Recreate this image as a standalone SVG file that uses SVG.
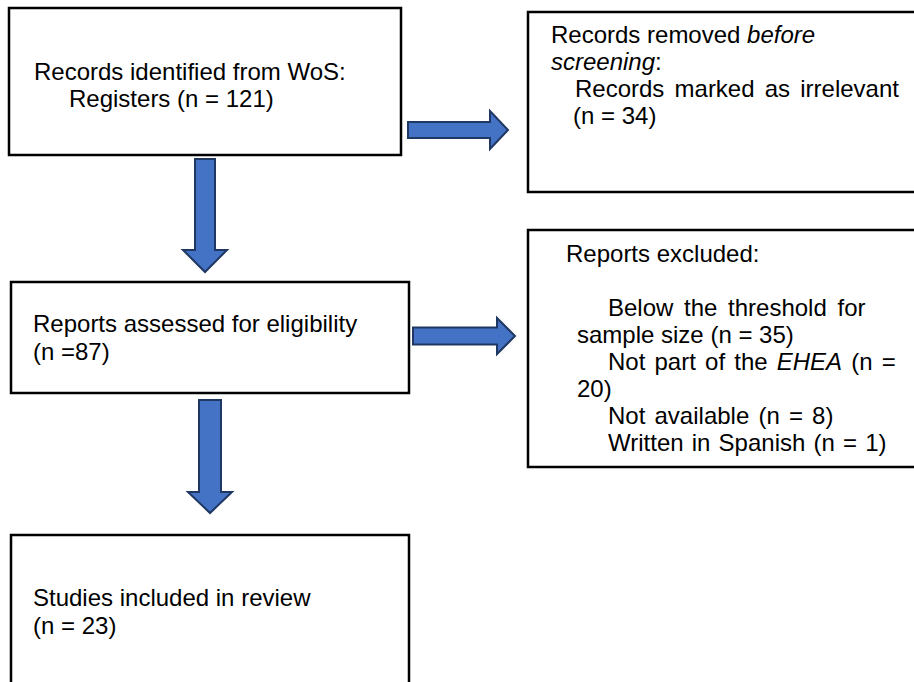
<svg xmlns="http://www.w3.org/2000/svg" width="914" height="682" viewBox="0 0 914 682">
<style>
.box{fill:#fff;stroke:#000;stroke-width:2.5}
.t{font-family:"Liberation Sans",Arial,sans-serif;font-size:24px;fill:#000}
.i{font-style:italic}
.arr{fill:#4472C4;stroke:#1F3763;stroke-width:2;stroke-linejoin:miter}
</style>
<defs>
<clipPath id="clip5"><rect x="528" y="230" width="400" height="226"/></clipPath>
</defs>
<rect width="914" height="682" fill="#fff"/>
<g id="connectors">
<path class="arr" d="M408,122 H490 V111 L508,130 L490,149 V138 H408 Z"/>
<path class="arr" d="M195,159 H215 V250 H227 L205,272 L183,250 H195 Z"/>
<path class="arr" d="M413,327.5 H497 V318 L515,336 L497,354 V344.5 H413 Z"/>
<path class="arr" d="M199,400 H221 V492 H232 L210,513 L188,492 H199 Z"/>
</g>
<g id="identified">
<rect class="box" x="9" y="8" width="392" height="147"/>
<text class="t" x="34" y="80">Records identified from WoS:</text>
<text class="t" x="69" y="107">Registers (n = 121)</text>
</g>
<g id="removed">
<rect class="box" x="528" y="12" width="400" height="180"/>
<text class="t" x="551" y="43">Records removed <tspan class="i">before</tspan></text>
<text class="t" x="551" y="70"><tspan class="i">screening</tspan>:</text>
<text class="t" x="575" y="97" word-spacing="3.5">Records marked as irrelevant</text>
<text class="t" x="573" y="124">(n = 34)</text>
</g>
<g id="assessed">
<rect class="box" x="11" y="282" width="398" height="111"/>
<text class="t" x="33" y="332">Reports assessed for eligibility</text>
<text class="t" x="33" y="360">(n =87)</text>
</g>
<g id="excluded">
<rect class="box" x="528" y="230" width="400" height="237"/>
<g clip-path="url(#clip5)">
<text class="t" x="566" y="262">Reports excluded:</text>
<text class="t" x="608" y="316" word-spacing="4">Below the threshold for</text>
<text class="t" x="577" y="343">sample size (n = 35)</text>
<text class="t" x="608" y="370" word-spacing="2.5">Not part of the <tspan class="i">EHEA</tspan> (n =</text>
<text class="t" x="577" y="397">20)</text>
<text class="t" x="608" y="424" word-spacing="2.5">Not available (n = 8)</text>
<text class="t" x="608" y="451" word-spacing="1.5">Written in Spanish (n = 1)</text>
</g>
</g>
<g id="included">
<rect class="box" x="11" y="535" width="398" height="200"/>
<text class="t" x="33" y="606">Studies included in review</text>
<text class="t" x="33" y="634">(n = 23)</text>
</g>
</svg>
